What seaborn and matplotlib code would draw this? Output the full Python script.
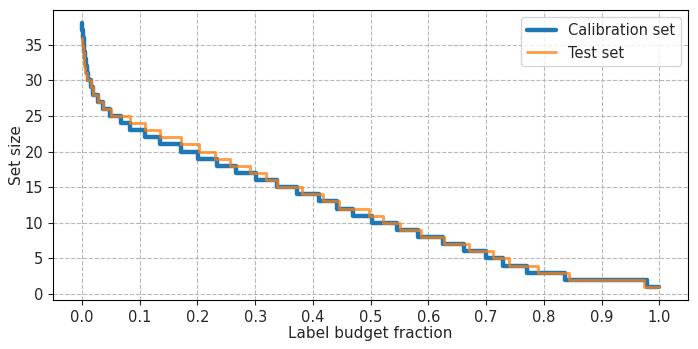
import numpy as np
import pandas as pd
import matplotlib
matplotlib.use("Agg")
import matplotlib.pyplot as plt
import seaborn as sns

# budget fraction where each set size starts (step, post)
cal_budget = [0.000, 0.001, 0.002, 0.003, 0.004, 0.005, 0.007, 0.009, 0.011,
              0.015, 0.020, 0.027, 0.036, 0.048, 0.067, 0.083, 0.109, 0.135,
              0.172, 0.201, 0.234, 0.267, 0.302, 0.338, 0.373, 0.410, 0.441,
              0.470, 0.503, 0.545, 0.582, 0.625, 0.662, 0.700, 0.730, 0.770,
              0.836, 0.978, 1.000]
cal_size = [38, 37, 36, 35, 34, 33, 32, 31, 30,
            29, 28, 27, 26, 25, 24, 23, 22, 21,
            20, 19, 18, 17, 16, 15, 14, 13, 12,
            11, 10, 9, 8, 7, 6, 5, 4, 3,
            2, 1, 1]

test_budget = [0.000, 0.001, 0.002, 0.003, 0.004, 0.006, 0.009,
               0.015, 0.020, 0.027, 0.036, 0.050, 0.083, 0.109, 0.135,
               0.171, 0.203, 0.230, 0.256, 0.291, 0.319, 0.338, 0.381,
               0.418, 0.445, 0.497, 0.521, 0.551, 0.587, 0.627, 0.670,
               0.712, 0.740, 0.790, 0.843, 0.973, 1.000]
test_size = [36, 35, 34, 33, 32, 31, 30,
             29, 28, 27, 26, 25, 24, 23, 22,
             21, 20, 19, 18, 17, 16, 15, 14,
             13, 12, 11, 10, 9, 8, 7, 6,
             5, 4, 3, 2, 1, 1]

xticks = np.round(np.arange(0, 1.01, 0.1), 1)
yticks = np.arange(0, 40, 5)

sns.set_style("ticks")
plt.rcParams.update({'font.family': 'DejaVu Sans', 'font.size': 11})

cal = pd.DataFrame({'budget': cal_budget, 'size': cal_size})
test = pd.DataFrame({'budget': test_budget, 'size': test_size})

fig, ax = plt.subplots(figsize=(6.98, 3.49), dpi=100)
sns.lineplot(data=cal, x='budget', y='size', ax=ax, drawstyle='steps-post',
             color='#1f77b4', linewidth=3.2, label='Calibration set')
sns.lineplot(data=test, x='budget', y='size', ax=ax, drawstyle='steps-post',
             color='#ff7f0e', linewidth=2.1, alpha=0.75, label='Test set')

ax.set_xticks(xticks)
ax.set_yticks(yticks)
ax.tick_params(labelsize=10.5)
ax.set_xlabel('Label budget fraction', fontsize=11)
ax.set_ylabel('Set size', fontsize=11)
ax.xaxis.set_label_coords(0.5, -0.088)
ax.yaxis.set_label_coords(-0.046, 0.5)
ax.grid(True, linestyle='--', color='#b8b8b8', linewidth=0.8)
for s in ax.spines.values():
    s.set_color('black')
    s.set_linewidth(0.8)
ax.legend(loc='upper right', fontsize=10.5, framealpha=0.8)

plt.subplots_adjust(left=0.076, right=0.986, top=0.971, bottom=0.14)
plt.savefig('out.png', dpi=100)
